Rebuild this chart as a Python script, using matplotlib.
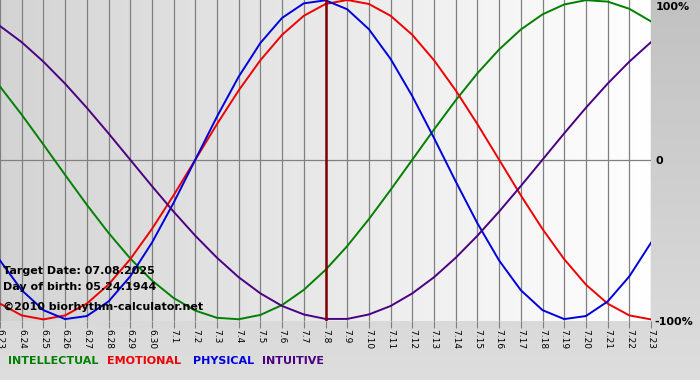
import numpy as np
import matplotlib
matplotlib.use("Agg")
import matplotlib.pyplot as plt

# day labels 6.23 .. 7.23
days = ["6.23", "6.24", "6.25", "6.26", "6.27", "6.28", "6.29", "6.30",
        "7.1", "7.2", "7.3", "7.4", "7.5", "7.6", "7.7", "7.8", "7.9", "7.10",
        "7.11", "7.12", "7.13", "7.14", "7.15", "7.16", "7.17", "7.18", "7.19",
        "7.20", "7.21", "7.22", "7.23"]
target_idx = 15  # 7.8

physical = [-0.631, -0.817, -0.942, -0.998, -0.979, -0.888, -0.731, -0.520, -0.270,
            0.000, 0.270, 0.520, 0.731, 0.888, 0.979, 0.998, 0.942, 0.817, 0.631,
            0.398, 0.136, -0.136, -0.398, -0.631, -0.817, -0.942, -0.998, -0.979,
            -0.888, -0.731, -0.520]
emotional = [-0.901, -0.975, -1.000, -0.975, -0.901, -0.782, -0.623, -0.434, -0.223,
             0.000, 0.223, 0.434, 0.623, 0.782, 0.901, 0.975, 1.000, 0.975, 0.901,
             0.782, 0.623, 0.434, 0.223, 0.000, -0.223, -0.434, -0.623, -0.782,
             -0.901, -0.975, -1.000]
intellectual = [0.458, 0.282, 0.095, -0.095, -0.282, -0.458, -0.618, -0.756, -0.866,
                -0.945, -0.990, -0.999, -0.972, -0.910, -0.815, -0.690, -0.541, -0.372,
                -0.189, 0.000, 0.189, 0.372, 0.541, 0.690, 0.815, 0.910, 0.972, 0.999,
                0.990, 0.945, 0.866]
intuitive = [0.837, 0.736, 0.614, 0.476, 0.325, 0.165, 0.000, -0.165, -0.325, -0.476,
             -0.614, -0.736, -0.837, -0.916, -0.969, -0.997, -0.997, -0.969, -0.916,
             -0.837, -0.736, -0.614, -0.476, -0.325, -0.165, 0.000, 0.165, 0.325,
             0.476, 0.614, 0.736]

series = [("INTELLECTUAL", intellectual, "#008000"),
          ("EMOTIONAL", emotional, "#ee0000"),
          ("PHYSICAL", physical, "#0000dd"),
          ("INTUITIVE", intuitive, "#4b0082")]
legend_x = [8, 107, 193, 262]  # pixel positions of legend words

fig = plt.figure(figsize=(7, 3.8), dpi=100, facecolor="#c6c6c6")

# figure background, slightly lighter towards the bottom
bg = fig.add_axes([0, 0, 1, 1], zorder=-10)
shade = np.linspace(0.76, 0.87, 256).reshape(-1, 1, 1) * np.ones((1, 1, 3))
bg.imshow(shade, extent=[0, 1, 0, 1], aspect="auto", interpolation="bilinear")
bg.axis("off")

ax = fig.add_axes([0.0, 1 - 321 / 380, 651 / 700, 321 / 380])
x = np.arange(len(days))
n = len(days) - 1

# plot background gradient, darker on the left
hshade = np.linspace(0.83, 1.0, 256).reshape(1, -1, 1) * np.ones((1, 1, 3))
ax.imshow(hshade, extent=[0, n, -1.01, 1], aspect="auto", zorder=0,
          interpolation="bilinear")

for xi in x:
    ax.axvline(xi, color="#808080", lw=0.9, zorder=1)
ax.axhline(0, color="#808080", lw=0.9, zorder=1)
ax.axvline(target_idx, color="#800000", lw=1.8, zorder=3)

for name, vals, col in series:
    ax.plot(x, vals, color=col, lw=1.4, zorder=2)

ax.set_xlim(0, n)
ax.set_ylim(-1.01, 1.0)
for s in ax.spines.values():
    s.set_visible(False)
ax.set_yticks([])
ax.set_xticks(x)
ax.set_xticklabels(days, rotation=270, fontsize=6.5)
ax.tick_params(axis="x", length=5, color="#808080", pad=1)

ax.text(0.004, 0.156, "Target Date: 07.08.2025", transform=ax.transAxes,
        fontsize=8, fontweight="bold", va="center")
ax.text(0.004, 0.106, "Day of birth: 05.24.1944", transform=ax.transAxes,
        fontsize=8, fontweight="bold", va="center")
ax.text(0.004, 0.044, "\u00a92010 biorhythm-calculator.net", transform=ax.transAxes,
        fontsize=8, fontweight="bold", va="center")

fig.text(656 / 700, 1 - 7 / 380, "100%", fontsize=8, fontweight="bold", va="center")
fig.text(656 / 700, 1 - 161 / 380, "0", fontsize=8, fontweight="bold", va="center")
fig.text(654 / 700, 1 - 322 / 380, "-100%", fontsize=8, fontweight="bold", va="center")

# legend row
for (name, vals, col), lx in zip(series, legend_x):
    fig.text(lx / 700, 1 - 361 / 380, name, color=col, fontsize=8,
             fontweight="bold", va="center")

fig.savefig("out.png", dpi=100, facecolor=fig.get_facecolor())
